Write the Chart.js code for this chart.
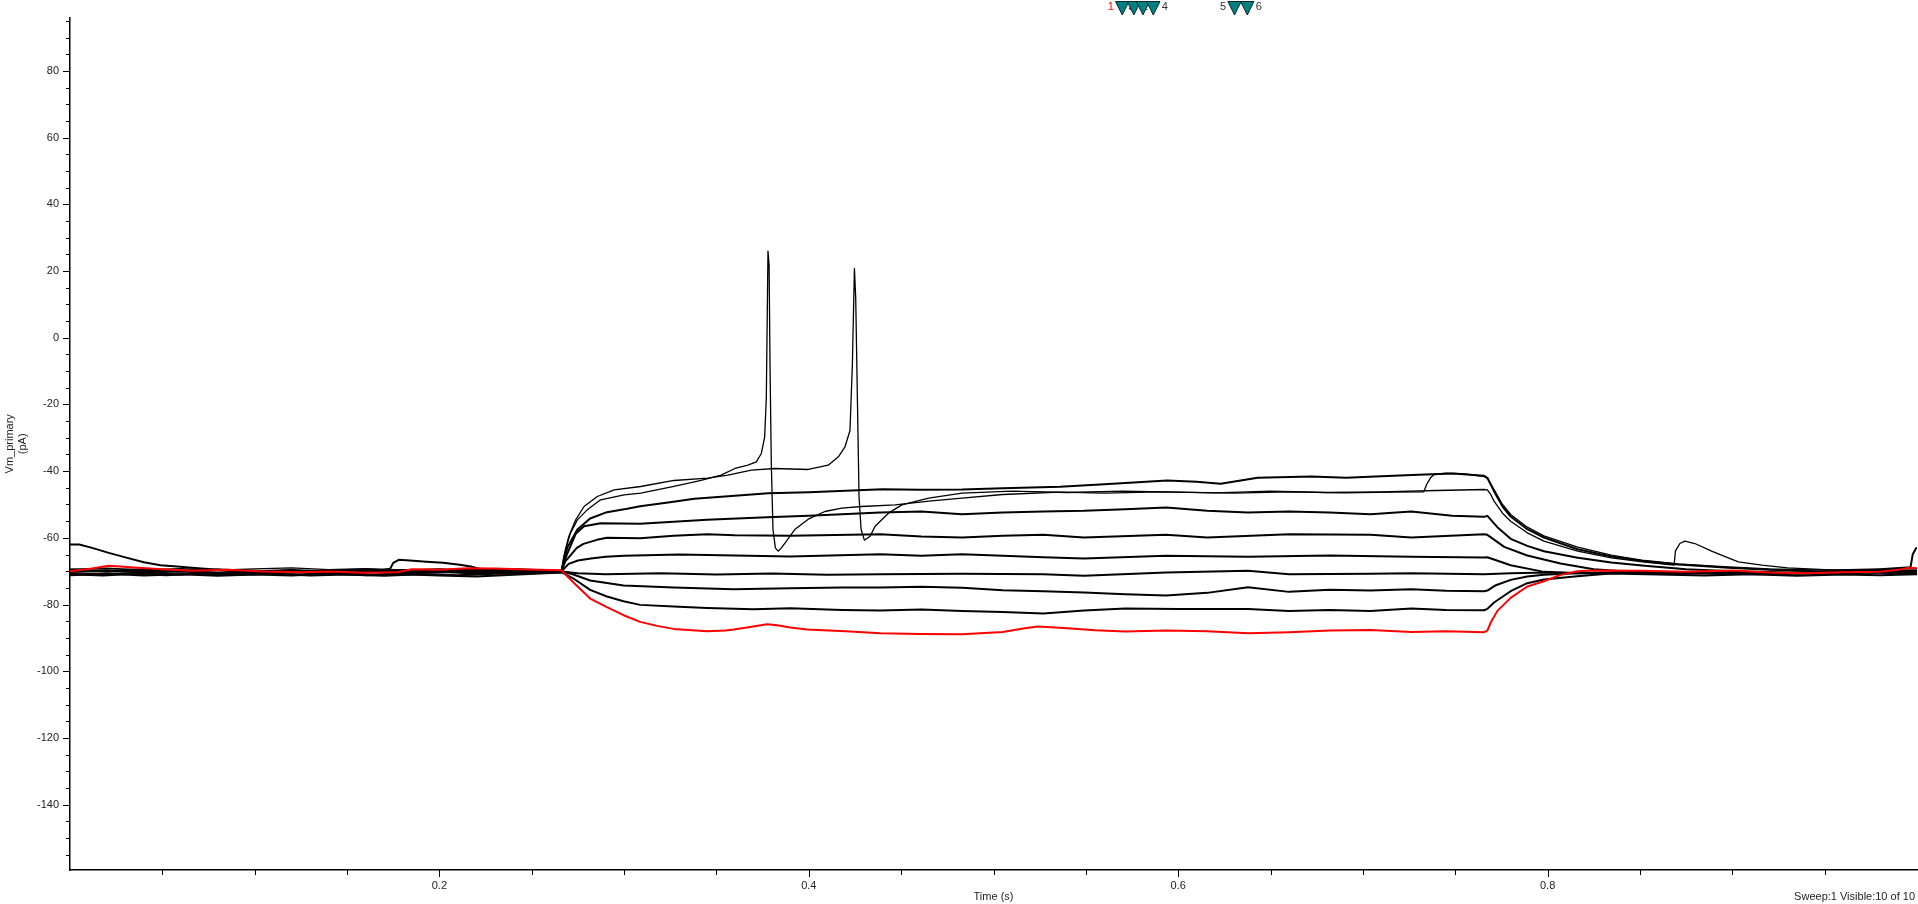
<!DOCTYPE html>
<html><head><meta charset="utf-8">
<style>html,body{margin:0;padding:0;background:#fff;overflow:hidden}#wrap{position:relative;width:1918px;height:904px}</style>
<script src="https://cdn.jsdelivr.net/npm/chart.js@4.4.0/dist/chart.umd.min.js"></script>
</head><body><div id="wrap"><canvas id="c" width="1918" height="904"></canvas></div>
<script>
// ---- data: [time (s), Vm] ----
const sweep01 = [[0,-70.0],[0.012,-69.2],[0.021,-68.4],[0.035,-68.9],[0.05,-69.4],[0.066,-69.9],[0.085,-69.6],[0.105,-70.1],[0.125,-70.3],[0.141,-70.1],[0.16,-70.5],[0.177,-70.3],[0.185,-69.4],[0.2,-69.6],[0.215,-69.1],[0.23,-69.2],[0.248,-69.5],[0.266,-69.7],
[0.2726,-73.4],[0.2816,-78.2],[0.2907,-80.8],[0.2997,-83.2],[0.3087,-85.2],[0.3178,-86.4],[0.3268,-87.3],[0.3449,-88.0],[0.355,-87.8],[0.3593,-87.5],[0.3665,-86.9],[0.3774,-85.9],[0.383,-86.2],[0.39,-86.9],[0.399,-87.5],[0.42,-88.0],[0.4387,-88.6],[0.46,-88.8],[0.483,-88.9],[0.505,-88.2],[0.516,-87.2],[0.524,-86.6],[0.538,-87.0],[0.555,-87.7],[0.5714,-88.1],[0.5935,-87.8],[0.6157,-88.0],[0.6378,-88.6],[0.66,-88.3],[0.682,-87.8],[0.7041,-87.6],[0.7262,-88.2],[0.745,-88.0],[0.7656,-88.3],
[0.7674,-87.8],[0.7692,-85.4],[0.7728,-81.9],[0.78,-78.0],[0.789,-74.6],[0.798,-73.0],[0.807,-71.1],[0.816,-70.0],[0.825,-69.8],[0.85,-69.9],[0.875,-70.2],[0.9,-69.8],[0.92,-70.4],[0.94,-70.6],[0.96,-70.3],[0.98,-70.2],[0.99,-69.6],[0.995,-69.0],[1.0,-69.1]];

const sweep02 = [[0,-70.9],[0.018,-71.3],[0.035,-70.8],[0.052,-71.2],[0.07,-70.7],[0.09,-71.1],[0.11,-70.8],[0.13,-71.3],[0.15,-71.0],[0.17,-71.4],[0.19,-70.9],[0.21,-71.2],[0.23,-70.8],[0.25,-70.6],[0.266,-70.3],
[0.2726,-72.2],[0.2816,-75.6],[0.2907,-77.6],[0.2997,-79.0],[0.3087,-80.1],[0.3268,-80.6],[0.3449,-81.0],[0.37,-81.4],[0.39,-81.1],[0.418,-81.6],[0.4387,-81.8],[0.461,-81.5],[0.483,-81.9],[0.505,-82.2],[0.527,-82.7],[0.549,-81.8],[0.5714,-81.2],[0.6,-81.3],[0.6378,-81.3],[0.66,-81.9],[0.682,-81.6],[0.7041,-81.9],[0.7262,-81.2],[0.745,-81.6],[0.7656,-81.7],
[0.7674,-81.3],[0.771,-79.4],[0.78,-76.0],[0.789,-73.6],[0.798,-72.5],[0.816,-71.5],[0.834,-70.7],[0.86,-71.0],[0.885,-71.3],[0.91,-70.9],[0.935,-71.4],[0.96,-71.0],[0.98,-71.2],[1.0,-70.9]];

const sweep03 = [[0,-69.8],[0.02,-70.2],[0.04,-69.7],[0.06,-70.0],[0.08,-69.6],[0.1,-70.1],[0.12,-69.9],[0.14,-70.4],[0.16,-70.0],[0.18,-69.7],[0.2,-70.2],[0.22,-70.5],[0.24,-70.1],[0.266,-70.0],
[0.2726,-71.0],[0.2816,-72.8],[0.2997,-74.3],[0.3268,-74.9],[0.3593,-75.4],[0.39,-75.1],[0.418,-74.9],[0.4387,-74.9],[0.461,-74.7],[0.483,-75.0],[0.505,-75.7],[0.527,-76.0],[0.549,-76.4],[0.5714,-76.9],[0.5935,-77.3],[0.6157,-76.5],[0.6378,-74.8],[0.66,-76.2],[0.682,-75.6],[0.7041,-75.8],[0.7262,-75.4],[0.745,-75.9],[0.7656,-76.0],
[0.7674,-75.8],[0.772,-74.2],[0.78,-72.6],[0.789,-71.6],[0.798,-71.1],[0.816,-70.6],[0.84,-70.4],[0.865,-70.8],[0.89,-70.5],[0.915,-70.9],[0.94,-70.6],[0.96,-70.2],[0.98,-69.4],[0.9965,-68.8],[0.9977,-64.9],[0.9995,-63.1],[1.0,-63.0]];

const sweep04 = [[0,-62.0],[0.005,-62.0],[0.012,-63.0],[0.021,-64.5],[0.031,-66.0],[0.04,-67.3],[0.049,-68.2],[0.058,-68.6],[0.066,-69.0],[0.08,-69.6],[0.1,-70.3],[0.12,-70.1],[0.14,-70.6],[0.16,-70.3],[0.18,-70.7],[0.2,-70.4],[0.22,-70.0],[0.24,-70.5],[0.266,-70.1],
[0.275,-70.6],[0.29,-70.9],[0.32,-70.6],[0.35,-71.0],[0.38,-70.7],[0.41,-71.1],[0.4387,-70.9],[0.483,-70.8],[0.527,-70.9],[0.549,-71.4],[0.5935,-70.4],[0.6378,-69.9],[0.66,-70.9],[0.7041,-70.8],[0.7262,-70.6],[0.7656,-70.9],
[0.78,-70.6],[0.8,-70.4],[0.83,-70.7],[0.86,-70.3],[0.89,-70.8],[0.92,-70.5],[0.95,-70.9],[0.975,-70.4],[1.0,-70.7]];

const sweep05 = [[0,-70.2],[0.02,-69.9],[0.04,-70.4],[0.06,-70.1],[0.08,-70.6],[0.1,-70.2],[0.12,-69.8],[0.14,-70.3],[0.16,-70.0],[0.18,-70.5],[0.2,-70.2],[0.22,-70.7],[0.24,-70.3],[0.266,-70.1],
[0.27,-67.8],[0.275,-66.8],[0.282,-66.2],[0.29,-65.7],[0.30,-65.4],[0.33,-65.0],[0.36,-65.3],[0.39,-65.6],[0.4387,-64.9],[0.461,-65.4],[0.483,-64.9],[0.505,-65.4],[0.527,-65.8],[0.549,-66.2],[0.5935,-65.4],[0.6378,-65.7],[0.682,-65.3],[0.7262,-65.7],[0.7656,-65.9],
[0.7674,-65.8],[0.78,-68.2],[0.798,-70.2],[0.816,-70.6],[0.84,-70.3],[0.87,-70.7],[0.9,-70.2],[0.93,-70.6],[0.96,-70.3],[1.0,-70.5]];

const sweep06 = [[0,-69.6],[0.02,-69.9],[0.04,-69.4],[0.06,-69.8],[0.08,-69.5],[0.1,-69.9],[0.12,-70.3],[0.14,-69.8],[0.16,-69.5],[0.18,-69.9],[0.2,-69.6],[0.22,-69.9],[0.24,-69.4],[0.266,-69.9],
[0.2683,-67.0],[0.2707,-65.4],[0.2744,-63.0],[0.278,-61.8],[0.2853,-60.6],[0.2907,-60.0],[0.3087,-60.1],[0.3268,-59.4],[0.3449,-58.9],[0.36,-59.2],[0.39,-59.4],[0.4387,-58.9],[0.461,-59.6],[0.483,-59.9],[0.505,-59.4],[0.527,-59.1],[0.549,-59.9],[0.5935,-59.1],[0.6157,-59.9],[0.66,-58.9],[0.7041,-59.1],[0.7262,-59.9],[0.7656,-58.9],
[0.7674,-59.1],[0.7765,-62.7],[0.789,-65.3],[0.807,-67.7],[0.825,-69.4],[0.843,-70.1],[0.87,-70.5],[0.9,-70.1],[0.93,-70.6],[0.96,-70.2],[1.0,-70.4]];

const sweep07 = [[0,-70.6],[0.02,-70.9],[0.04,-70.5],[0.06,-71.0],[0.08,-70.6],[0.1,-70.8],[0.12,-70.4],[0.14,-70.7],[0.16,-70.5],[0.1733,-69.3],[0.175,-67.5],[0.178,-66.6],[0.184,-66.8],[0.193,-67.2],[0.202,-67.5],[0.211,-68.1],[0.217,-68.6],[0.222,-69.3],[0.235,-69.9],[0.25,-70.3],[0.266,-70.1],
[0.2683,-66.0],[0.2701,-63.6],[0.2738,-58.8],[0.2783,-56.5],[0.2873,-55.6],[0.3087,-55.8],[0.3268,-55.2],[0.3449,-54.6],[0.3774,-53.8],[0.4,-53.4],[0.4387,-52.4],[0.461,-52.1],[0.483,-52.9],[0.505,-52.4],[0.527,-52.1],[0.549,-51.9],[0.5714,-51.4],[0.5935,-50.9],[0.6157,-51.9],[0.6378,-52.4],[0.66,-52.1],[0.682,-52.4],[0.7041,-52.9],[0.7262,-52.1],[0.7483,-53.4],[0.7656,-53.7],
[0.7674,-53.4],[0.7728,-56.8],[0.78,-60.3],[0.789,-62.4],[0.798,-64.0],[0.8163,-66.0],[0.8345,-67.4],[0.8525,-68.4],[0.875,-69.4],[0.9,-70.0],[0.93,-70.4],[0.96,-70.1],[1.0,-70.5]];

const sweep08 = [[0,-71.2],[0.02,-70.8],[0.04,-71.3],[0.06,-70.9],[0.08,-71.4],[0.1,-71.0],[0.12,-71.3],[0.14,-70.8],[0.16,-71.2],[0.18,-70.9],[0.2,-71.3],[0.22,-71.6],[0.24,-71.1],[0.266,-70.4],
[0.2692,-63.0],[0.2747,-57.5],[0.2816,-54.2],[0.2907,-52.3],[0.3016,-51.3],[0.3087,-50.5],[0.3268,-49.2],[0.338,-48.3],[0.36,-47.4],[0.378,-46.6],[0.40,-46.3],[0.42,-45.9],[0.44,-45.4],[0.46,-45.6],[0.483,-45.5],[0.505,-45.1],[0.536,-44.7],[0.56,-43.9],[0.594,-42.8],[0.61,-43.2],[0.623,-43.8],[0.643,-42.0],[0.672,-41.6],[0.691,-42.0],[0.71,-41.5],[0.73,-41.1],[0.749,-40.7],[0.7656,-41.4],
[0.7674,-42.0],[0.771,-46.0],[0.7756,-50.6],[0.78,-53.6],[0.789,-57.4],[0.798,-59.9],[0.8163,-63.4],[0.8345,-65.6],[0.8525,-67.0],[0.8707,-68.0],[0.8978,-69.0],[0.92,-69.6],[0.95,-70.1],[0.975,-69.8],[1.0,-70.2]];

const sweep09 = [[0,-70.0],[0.02,-69.6],[0.04,-70.1],[0.06,-69.8],[0.08,-70.3],[0.1,-69.9],[0.12,-69.5],[0.14,-70.0],[0.16,-69.7],[0.18,-70.2],[0.2,-69.8],[0.22,-69.4],[0.24,-69.9],[0.266,-70.0],
[0.2683,-63.5],[0.271,-58.5],[0.2747,-54.6],[0.28,-51.6],[0.2873,-48.6],[0.3,-47.1],[0.309,-46.6],[0.327,-44.6],[0.3417,-42.8],[0.3525,-41.2],[0.36,-39.2],[0.367,-38.2],[0.3716,-37.2],[0.3743,-34.7],[0.3761,-29.8],[0.377,-17.9],[0.3779,26.0],[0.3785,21.8],[0.379,-7.9],[0.3797,-37.7],[0.3806,-57.5],[0.3819,-63.0],[0.3834,-64.0],[0.3852,-63.0],[0.3924,-57.5],[0.3997,-54.4],[0.4087,-52.1],[0.4178,-51.1],[0.4286,-50.6],[0.4468,-50.1],[0.465,-49.0],[0.483,-48.1],[0.505,-47.0],[0.536,-46.3],[0.56,-46.6],[0.59,-46.2],[0.62,-46.5],[0.65,-46.0],[0.68,-46.4],[0.71,-46.2],[0.74,-45.8],[0.7656,-45.5],
[0.7674,-45.6],[0.7692,-47.0],[0.771,-49.0],[0.7756,-52.6],[0.78,-55.0],[0.789,-58.5],[0.798,-61.0],[0.8163,-64.0],[0.8345,-66.0],[0.8525,-67.3],[0.8685,-68.2],[0.8692,-64.0],[0.8716,-61.7],[0.8743,-61.0],[0.8797,-61.7],[0.8888,-64.0],[0.8978,-66.0],[0.9033,-67.2],[0.916,-68.2],[0.93,-69.0],[0.95,-69.5],[0.975,-69.9],[1.0,-69.6]];

const sweep10 = [[0,-69.4],[0.02,-69.1],[0.04,-69.6],[0.06,-69.2],[0.08,-69.7],[0.1,-69.3],[0.12,-69.0],[0.14,-69.5],[0.16,-69.2],[0.18,-69.6],[0.2,-69.3],[0.22,-69.8],[0.24,-69.4],[0.266,-69.9],
[0.2674,-65.5],[0.2701,-59.5],[0.2738,-54.6],[0.2783,-50.6],[0.2855,-47.6],[0.2946,-45.6],[0.309,-44.6],[0.327,-42.8],[0.3453,-42.1],[0.3562,-41.2],[0.3689,-39.7],[0.3815,-39.2],[0.3997,-39.5],[0.4105,-38.2],[0.416,-35.7],[0.4196,-32.7],[0.4223,-27.8],[0.4236,-7.9],[0.4247,20.8],[0.4254,11.9],[0.4263,-17.9],[0.4272,-47.6],[0.4283,-57.5],[0.4301,-60.7],[0.4332,-59.5],[0.4359,-56.5],[0.4431,-52.6],[0.4504,-50.1],[0.4649,-48.1],[0.483,-46.6],[0.51,-46.0],[0.54,-46.4],[0.57,-46.0],[0.6,-46.3],[0.63,-46.6],[0.66,-46.2],[0.69,-46.5],[0.715,-46.3],[0.733,-46.2],[0.7345,-44.0],[0.7366,-42.0],[0.7386,-41.0],[0.745,-40.6],[0.755,-40.8],[0.7656,-41.6],
[0.7674,-42.2],[0.771,-45.5],[0.7756,-50.0],[0.78,-53.0],[0.789,-56.8],[0.798,-59.4],[0.8163,-62.8],[0.8345,-65.2],[0.8525,-66.8],[0.8707,-67.8],[0.8978,-68.7],[0.92,-69.3],[0.95,-69.7],[0.975,-69.4],[1.0,-69.8]];

const xTickValues = [0.2, 0.4, 0.6, 0.8];
const yTickValues = [-140, -120, -100, -80, -60, -40, -20, 0, 20, 40, 60, 80];
const cursorTimes = [0.5697, 0.5760, 0.5809, 0.5865, 0.6305, 0.6374];
const cursorNames = ['1', '2', '3', '4', '5', '6'];
const xTitle = 'Time (s)';
const yTitle = ['Vm_primary', '(pA)'];
const statusText = 'Sweep:1 Visible:10 of 10';

// ---- rendering ----
const FONT = '"Liberation Sans", Arial, Helvetica, sans-serif';
const TEXT = '#222';
const sweeps = [sweep01, sweep02, sweep03, sweep04, sweep05, sweep06, sweep07, sweep08, sweep09, sweep10];

const datasets = sweeps.map((d, i) => ({
  label: 'Sweep ' + (i + 1),
  data: d,
  borderColor: i === 0 ? '#ff0000' : '#000000',
  borderWidth: (i >= 8) ? 1.3 : 2.0,
  pointRadius: 0,
  tension: 0,
  fill: false,
  borderJoinStyle: 'round'
}));

const decor = {
  id: 'decor',
  afterDraw(chart) {
    const ctx = chart.ctx, xs = chart.scales.x, ys = chart.scales.y, a = chart.chartArea;
    ctx.save();
    ctx.strokeStyle = '#000';
    ctx.lineWidth = 1;
    for (let v = -155; v <= 95; v += 5) {
      const major = v % 20 === 0;
      const py = Math.round(ys.getPixelForValue(v)) + 0.5;
      ctx.beginPath();
      ctx.moveTo(a.left - (major ? 7 : 4), py);
      ctx.lineTo(a.left, py);
      ctx.stroke();
    }
    for (let i = 1; i < 20; i++) {
      const v = i * 0.05;
      const major = i % 4 === 0;
      const px = Math.round(xs.getPixelForValue(v)) + 0.5;
      ctx.beginPath();
      ctx.moveTo(px, a.bottom);
      ctx.lineTo(px, a.bottom + (major ? 7 : 5));
      ctx.stroke();
    }
    ctx.font = '11px ' + FONT;
    ctx.textBaseline = 'middle';
    cursorTimes.forEach((t, i) => {
      const px = xs.getPixelForValue(t);
      const odd = i % 2 === 0;
      ctx.fillStyle = i === 0 ? '#ff0000' : '#333';
      ctx.textAlign = 'center';
      ctx.fillText(cursorNames[i], odd ? px - 11.5 : px + 11.5, 7);
    });
    cursorTimes.forEach((t) => {
      const px = xs.getPixelForValue(t);
      ctx.beginPath();
      ctx.moveTo(px - 6.7, 1.5);
      ctx.lineTo(px + 6.7, 1.5);
      ctx.lineTo(px, 15);
      ctx.closePath();
      ctx.fillStyle = '#008080';
      ctx.fill();
      ctx.strokeStyle = '#0a2a2a';
      ctx.lineWidth = 1;
      ctx.stroke();
    });
    ctx.fillStyle = TEXT;
    ctx.textAlign = 'right';
    ctx.textBaseline = 'middle';
    ctx.fillText(statusText, 1915, 897);
    ctx.restore();
  }
};

Chart.defaults.font.family = FONT;
Chart.defaults.font.size = 11;
Chart.defaults.color = TEXT;

new Chart(document.getElementById('c'), {
  type: 'line',
  data: { datasets },
  options: {
    responsive: false,
    devicePixelRatio: 1,
    animation: false,
    events: [],
    layout: { padding: { top: 15, right: 1, left: 0, bottom: 0 } },
    plugins: { legend: { display: false }, tooltip: { enabled: false }, title: { display: false } },
    scales: {
      x: {
        type: 'linear', position: 'bottom', min: 0, max: 1.0,
        grid: { display: false, drawTicks: false },
        border: { display: true, color: '#000', width: 1.5 },
        ticks: { padding: 9, maxRotation: 0, autoSkip: false, callback: v => v.toFixed(1) },
        afterBuildTicks: s => { s.ticks = xTickValues.map(v => ({ value: v })); },
        afterFit: s => { s.height = 34; },
        title: { display: true, text: xTitle, padding: { top: 0, bottom: 0 }, font: { size: 11 } }
      },
      y: {
        type: 'linear', position: 'left', min: -159.6, max: 96,
        grid: { display: false, drawTicks: false },
        border: { display: true, color: '#000', width: 1.5 },
        ticks: { padding: 11, autoSkip: false, callback: v => String(v) },
        afterBuildTicks: s => { s.ticks = yTickValues.map(v => ({ value: v })); },
        afterFit: s => { s.width = 70; },
        title: { display: true, text: yTitle, padding: { top: 3, bottom: 0 }, font: { size: 11 } }
      }
    }
  },
  plugins: [decor]
});
</script>
</body></html>
